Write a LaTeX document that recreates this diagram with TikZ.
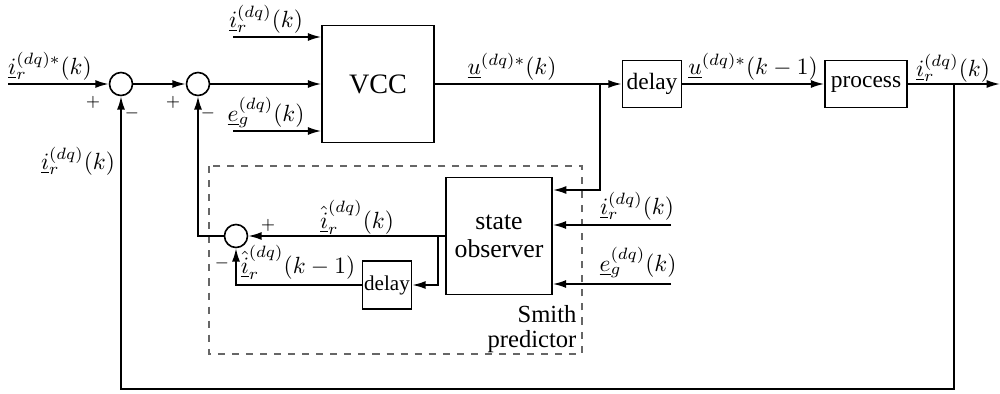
\documentclass[tikz,border=0pt]{standalone}
\usepackage{amsmath}
\usepackage{fontspec}
\setmainfont{Liberation Serif}
\usetikzlibrary{arrows.meta,positioning}

\tikzset{
  block/.style={draw, inner sep=0pt, font=\fontsize{10}{11}\selectfont},
  sumnode/.style={draw, circle, minimum size=0.345cm, inner sep=0pt},
  sign/.style={font=\scriptsize},
  lbl/.style={font=\fontsize{10}{11}\selectfont, inner sep=1pt},
}

\begin{document}
\begin{tikzpicture}[x=0.015cm, y=-0.015cm, line width=0.7pt, >={Latex[length=2mm,width=1.2mm]}]
        \useasboundingbox (0,0) rectangle (1000,394);

        % forward path
        \node[sumnode] (s1) at (121,84) {};
        \node[sumnode] (s2) at (198,84) {};
        \node[block, minimum width=1.68cm, minimum height=1.755cm, font=\fontsize{12}{13}\selectfont] (vcc) at (378,84) {VCC};
        \node[block, minimum width=0.885cm, minimum height=0.705cm] (d1) at (652,84) {delay};
        \node[block, minimum width=1.23cm, minimum height=0.705cm] (proc) at (866,84) {process};

        % smith predictor
        \node[block, minimum width=1.59cm, minimum height=1.755cm, align=center, font=\fontsize{11}{12}\selectfont] (so) at (499,236) {state\\observer};
        \node[block, minimum width=0.735cm, minimum height=0.72cm, font=\fontsize{9}{10}\selectfont] (d2) at (387,285) {delay};
        \node[sumnode] (s3) at (236,236) {};
        \draw[dashed, line width=0.5pt, gray!80!black] (209,166) rectangle (582,354);
        \node[align=right, font=\fontsize{10.5}{10.5}\selectfont, inner sep=0pt] (sp) at (532,329) {Smith\\predictor};

        \coordinate (in) at (8,84);
        \coordinate (ia) at (233,37);
        \coordinate (ea) at (233,131);
        \coordinate (br1) at (600,84);
        \coordinate (br2) at (954,84);
        \coordinate (out) at (1000,84);
        \coordinate (fb) at (954,389);
        \coordinate (br3) at (438,236);
        \coordinate (ob1) at (671,225);
        \coordinate (ob2) at (671,284);

        \draw[->] (in) -- (s1);
        \draw[->] (s1) -- (s2);
        \draw[->] (s2) -- (s2 -| vcc.west);
        \draw[->] (ia) -- (ia -| vcc.west);
        \draw[->] (ea) -- (ea -| vcc.west);
        \draw[->] (vcc) -- (d1);
        \draw[->] (d1) -- (proc);
        \draw[->] (proc) -- (out);
        \draw[->] (br1) |- (553,190);
        \draw[->] (br2) -- (fb) -| (s1);
        \draw[->] (ob1) -- (ob1 -| so.east);
        \draw[->] (ob2) -- (ob2 -| so.east);
        \draw[->] (so) -- (s3);
        \draw[->] (br3) |- (d2);
        \draw[->] (d2) -| (s3);
        \draw[->] (s3) -| (s2);

        % labels
        \node[lbl] at (50,66) {$\underline{i}_r^{(dq)*}(k)$};
        \node[lbl] at (266,19) {$\underline{i}_r^{(dq)}(k)$};
        \node[lbl] at (266,112) {$\underline{e}_g^{(dq)}(k)$};
        \node[lbl] at (78,161) {$\underline{i}_r^{(dq)}(k)$};
        \node[lbl] at (512,67) {$\underline{u}^{(dq)*}(k)$};
        \node[lbl] at (753,67) {$\underline{u}^{(dq)*}(k-1)$};
        \node[lbl] at (953,68) {$\underline{i}_r^{(dq)}(k)$};
        \node[lbl] at (637,206) {$\underline{i}_r^{(dq)}(k)$};
        \node[lbl] at (638,262) {$\underline{e}_g^{(dq)}(k)$};
        \node[lbl] at (357,217) {$\hat{\underline{i}}_r^{(dq)}(k)$};
        \node[lbl] at (298,262) {$\hat{\underline{i}}_r^{(dq)}(k-1)$};

        \node[sign] at (93,102) {$+$};
        \node[sign] at (132,113) {$-$};
        \node[sign] at (173,102) {$+$};
        \node[sign] at (208,113) {$-$};
        \node[sign] at (268,225) {$+$};
        \node[sign] at (222,263) {$-$};

    \end{tikzpicture}
\end{document}
